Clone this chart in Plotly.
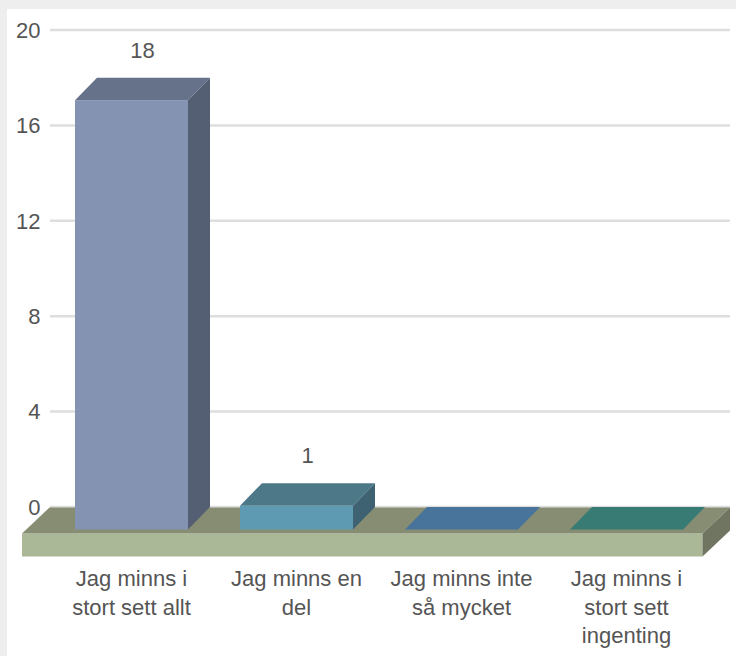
import plotly.graph_objects as go

categories = ["Jag minns i<br>stort sett allt", "Jag minns en<br>del",
              "Jag minns inte<br>så mycket", "Jag minns i<br>stort sett<br>ingenting"]
values = [18, 1, 0, 0]
y_ticks = [0, 4, 8, 12, 16, 20]
front_colors = ["#8493B2", "#5F9AB3", "#5A90BA", "#449A91"]
top_colors = ["#65728A", "#4D7888", "#48739B", "#387B75"]
side_colors = ["#555F73", "#3F6272", "#3C607F", "#2F6660"]

# figure geometry in pixels
W, H = 736, 656
L, R, T, B = 22, 730, 25, 560
PX_X = 165.0      # pixels per category
PX_Y = 23.85      # pixels per value unit
X0_PX = 131.5     # pixel of the first category
Y0_PX = 507.0     # pixel of value 0 on the back plane
FONT = 22


def dx(p):
    return p / PX_X


def dy(p):
    return p / PX_Y


bar_w = 113 / PX_X
depth_x, depth_y = dx(22), dy(22.5)
xrange_ = [(L - X0_PX) / PX_X, (R - X0_PX) / PX_X]
yrange_ = [(Y0_PX - B) / PX_Y, (Y0_PX - T) / PX_Y]
idx = list(range(len(values)))


def paper_x(p):
    return (p - L) / (R - L)


def paper_y(p):
    return (B - p) / (B - T)


def poly(pts):
    return "M " + " L ".join(f"{x},{y}" for x, y in pts) + " Z"


shapes = [dict(type="rect", xref="paper", yref="paper", layer="below",
               x0=paper_x(7), x1=paper_x(W), y0=paper_y(H), y1=paper_y(9),
               fillcolor="#ffffff", line_width=0)]
for t in y_ticks:
    shapes.append(dict(type="line", xref="paper", yref="y", layer="below",
                       x0=paper_x(50), x1=1, y0=t, y1=t,
                       line=dict(color="#dedede", width=2.5)))

# floor slab
fl, fr = dx(22 - X0_PX), dx(702.5 - X0_PX)
fb, fk = dy(Y0_PX - 556.5), dy(Y0_PX - 533.5)
fdx, fdy = dx(27.5), dy(26)
shapes += [
    dict(type="path", layer="below", line_width=0, fillcolor="#ABB898",
         path=poly([(fl, fb), (fr, fb), (fr, fk), (fl, fk)])),
    dict(type="path", layer="below", line_width=0, fillcolor="#878D73",
         path=poly([(fl, fk), (fr, fk), (fr + fdx, fk + fdy), (fl + fdx, fk + fdy)])),
    dict(type="path", layer="below", line_width=0, fillcolor="#6F7560",
         path=poly([(fr, fb), (fr + fdx, fb + fdy), (fr + fdx, fk + fdy), (fr, fk)])),
]

fig = go.Figure()
fig.add_bar(x=idx, y=values, base=-depth_y, width=bar_w,
            marker=dict(color=front_colors, line_width=0),
            hoverinfo="skip", showlegend=False)

for i, v in zip(idx, values):
    xl, xr = i - bar_w / 2, i + bar_w / 2
    ft, fb2 = v - depth_y, -depth_y
    fig.add_scatter(x=[xl, xr, xr + depth_x, xl + depth_x, xl],
                    y=[ft, ft, v, v, ft], mode="lines", fill="toself",
                    fillcolor=top_colors[i], line_width=0,
                    hoverinfo="skip", showlegend=False)
    if v > 0:
        fig.add_scatter(x=[xr, xr + depth_x, xr + depth_x, xr, xr],
                        y=[fb2, 0, v, ft, fb2], mode="lines", fill="toself",
                        fillcolor=side_colors[i], line_width=0,
                        hoverinfo="skip", showlegend=False)

labelled = [i for i, v in zip(idx, values) if v > 0]
fig.add_scatter(x=[i + depth_x / 2 for i in labelled],
                y=[values[i] + dy(25.5) for i in labelled],
                mode="text", text=[str(values[i]) for i in labelled],
                textposition="middle center",
                textfont=dict(family="Liberation Sans", size=FONT, color="#555555"),
                hoverinfo="skip", showlegend=False)

fig.update_layout(
    width=W, height=H, autosize=False,
    margin=dict(l=L, r=W - R, t=T, b=H - B, pad=0),
    paper_bgcolor="#eeeeee", plot_bgcolor="rgba(0,0,0,0)",
    font=dict(family="Liberation Sans", size=FONT, color="#555555"),
    shapes=shapes, barmode="overlay", showlegend=False,
    xaxis=dict(range=xrange_, tickmode="array", tickvals=idx, ticktext=categories,
               showgrid=False, zeroline=False, showline=False,
               ticks="", ticklabelstandoff=3, tickangle=0, fixedrange=True),
    yaxis=dict(range=yrange_, tickmode="array", tickvals=y_ticks,
               showgrid=False, zeroline=False, showline=False,
               anchor="free", position=paper_x(40.5), ticks="",
               fixedrange=True),
)

fig.write_html("out.html", config=dict(displayModeBar=False),
               post_script="document.body.style.margin='0';document.documentElement.style.overflow='hidden';")
